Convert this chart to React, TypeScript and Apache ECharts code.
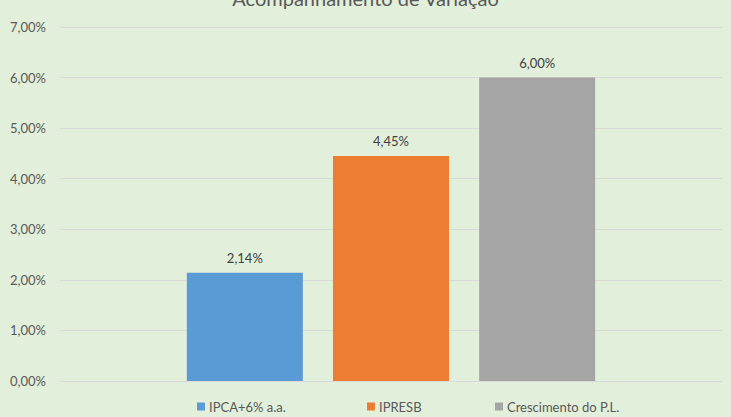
import React, { useEffect, useRef } from "react";
import * as echarts from "echarts";

const titleText = "Acompanhamento de Variação";
const categories = [""];
const seriesNames = ["IPCA+6% a.a.", "IPRESB", "Crescimento do P.L."];
const seriesValues = [2.14, 4.45, 6.0];
const seriesColors = ["#5B9BD5", "#ED7D31", "#A5A5A5"];
const legendLefts = [197, 367, 495];

const fmt = (v: number) => v.toFixed(2).replace(".", ",") + "%";

export default function App() {
  const ref = useRef<HTMLDivElement>(null);
  useEffect(() => {
    if (!ref.current) return;
    const chart = echarts.init(ref.current, undefined, { renderer: "svg" });
    const font = "Lato";
    chart.setOption({
      animation: false,
      backgroundColor: "#E2EFDA",
      textStyle: { fontFamily: font },
      title: {
        text: titleText,
        left: "center",
        top: -17,
        textStyle: { fontSize: 20, fontWeight: "normal", color: "#595959", fontFamily: font },
      },
      legend: seriesNames.map((n, i) => ({
        data: [n],
        left: legendLefts[i],
        top: 400,
        itemWidth: 8,
        itemHeight: 8,
        itemGap: 4,
        icon: "rect",
        textStyle: { fontSize: 13, color: "#595959", fontFamily: font, padding: [0, 0, 0, -1] },
        padding: 0,
      })),
      grid: { left: 60, right: 9, top: 27, bottom: 36, containLabel: false },
      xAxis: {
        type: "category",
        data: categories,
        axisLine: { show: true, lineStyle: { color: "#D9D9D9" } },
        axisTick: { show: false },
        axisLabel: { show: false },
      },
      yAxis: {
        type: "value",
        min: 0,
        max: 7,
        interval: 1,
        axisLine: { show: false },
        axisTick: { show: false },
        splitLine: { lineStyle: { color: "#D9D9D9", width: 1 } },
        axisLabel: {
          formatter: (v: number) => fmt(v),
          color: "#595959",
          fontSize: 13,
          margin: 14,
          fontFamily: font,
        },
      },
      series: seriesNames.map((n, i) => ({
        name: n,
        type: "bar",
        data: [seriesValues[i]],
        barWidth: 116,
        barGap: "26%",
        itemStyle: { color: seriesColors[i] },
        label: {
          show: true,
          position: "top",
          distance: 8,
          formatter: (p: any) => fmt(p.value),
          color: "#404040",
          fontSize: 13,
          fontFamily: font,
        },
      })),
    });
    return () => chart.dispose();
  }, []);
  return (
    <div
      ref={ref}
      style={{ position: "fixed", left: 0, top: 0, width: 731, height: 417 }}
    />
  );
}
